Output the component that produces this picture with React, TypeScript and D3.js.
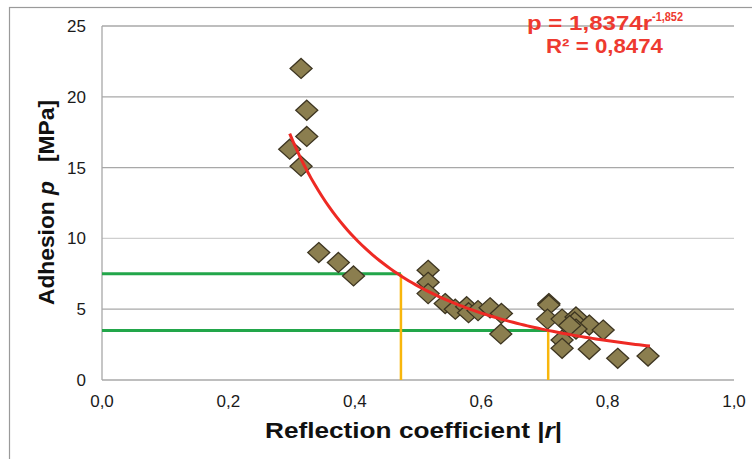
import React from "react";
import * as d3 from "d3";

const rValues = [0.315, 0.324, 0.324, 0.297, 0.315, 0.343, 0.374, 0.398, 0.516, 0.516, 0.516, 0.543, 0.559, 0.577, 0.580, 0.595, 0.614, 0.632, 0.631, 0.707, 0.707, 0.705, 0.728, 0.750, 0.748, 0.771, 0.793, 0.750, 0.740, 0.728, 0.728, 0.771, 0.816, 0.864];
const pValues = [22.0, 19.05, 17.2, 16.3, 15.1, 9.0, 8.3, 7.35, 7.75, 6.9, 6.1, 5.4, 5.0, 5.18, 4.75, 4.9, 5.1, 4.7, 3.25, 5.4, 5.3, 4.3, 4.3, 4.45, 4.1, 3.88, 3.53, 3.6, 3.85, 2.82, 2.24, 2.17, 1.53, 1.69];
const xTicks = [0, 0.2, 0.4, 0.6, 0.8, 1.0];
const yTicks = [0, 5, 10, 15, 20, 25];
const fitA = 1.8374;
const fitB = -1.852;
const fitRange = [0.297, 0.867];
const guideP = [7.5, 3.5];
const guideR = [0.473, 0.706];

const W = 752, H = 459;
const x = d3.scaleLinear().domain([0, 1]).range([102, 734]);
const y = d3.scaleLinear().domain([0, 25]).range([380, 26]);

const fmt = (v: number) => v.toFixed(1).replace(".", ",");

export default function App() {
  const curvePts = d3.range(0, 101).map((i) => {
    const r = fitRange[0] + ((fitRange[1] - fitRange[0]) * i) / 100;
    return [r, fitA * Math.pow(r, fitB)] as [number, number];
  });
  const line = d3.line<[number, number]>().x((d) => x(d[0])).y((d) => y(d[1]));
  const diamond = (cx: number, cy: number) =>
    `M${cx},${cy - 10}L${cx + 11},${cy}L${cx},${cy + 10}L${cx - 11},${cy}Z`;
  const font = "'Liberation Sans', Arial, sans-serif";
  return (
    <div style={{ position: "fixed", left: 0, top: 0 }}>
      <svg width={W} height={H} style={{ display: "block", background: "#fff" }}>
        <rect x={9.5} y={7.5} width={800} height={500} fill="none" stroke="#9a9a9a" strokeWidth={1.2} />
        {yTicks.filter((t) => t > 0).map((t) => (
          <line key={t} x1={x(0)} x2={x(1)} y1={y(t)} y2={y(t)} stroke={t === 10 ? "#cfcfcf" : "#a8a8a8"} strokeWidth={1.3} />
        ))}
        <line x1={x(0)} x2={x(1)} y1={y(0)} y2={y(0)} stroke="#a8a8a8" strokeWidth={1.3} />
        <line x1={x(0)} x2={x(0)} y1={y(0)} y2={y(25)} stroke="#a8a8a8" strokeWidth={1.3} />
        {yTicks.map((t) => (
          <text key={t} x={86} y={y(t)} dy="0.35em" textAnchor="end" fontFamily={font} fontSize={17} fill="#1a1a1a">{t}</text>
        ))}
        {xTicks.map((t) => (
          <text key={t} x={x(t)} y={407} textAnchor="middle" fontFamily={font} fontSize={17} fill="#1a1a1a">{fmt(t)}</text>
        ))}
        {guideP.map((p, i) => (
          <line key={"g" + i} x1={x(0)} x2={x(guideR[i])} y1={y(p)} y2={y(p)} stroke="#22a64a" strokeWidth={3} />
        ))}
        {guideR.map((r, i) => (
          <line key={"o" + i} x1={x(r)} x2={x(r)} y1={y(guideP[i])} y2={y(0)} stroke="#f8b60c" strokeWidth={2.5} />
        ))}
        {rValues.map((r, i) => (
          <path key={i} d={diamond(x(r), y(pValues[i]))} fill="#8b7e4f" stroke="#3d3521" strokeWidth={1.3} />
        ))}
        <path d={line(curvePts) || ""} fill="none" stroke="#ee2a24" strokeWidth={3} />
        <text x={527} y={30} fontFamily={font} fontWeight="bold" fontSize={21} fill="#ee3a30" textLength={125} lengthAdjust="spacingAndGlyphs">p = 1,8374r</text>
        <text x={652} y={21} fontFamily={font} fontWeight="bold" fontSize={13} fill="#ee3a30" textLength={31} lengthAdjust="spacingAndGlyphs">-1,852</text>
        <text x={546} y={53} fontFamily={font} fontWeight="bold" fontSize={21} fill="#ee3a30" textLength={117} lengthAdjust="spacingAndGlyphs">R² = 0,8474</text>
        <text x={265} y={438} fontFamily={font} fontWeight="bold" fontSize={22} fill="#111" textLength={297} lengthAdjust="spacingAndGlyphs">
          Reflection coefficient |<tspan fontStyle="italic">r</tspan>|
        </text>
        <text transform="translate(54,305) rotate(-90)" x={0} y={0} fontFamily={font} fontWeight="bold" fontSize={22} fill="#111" textLength={205} lengthAdjust="spacingAndGlyphs" style={{ whiteSpace: "pre" }}>
          {"Adhesion "}<tspan fontStyle="italic">p</tspan>{"   [MPa]"}
        </text>
      </svg>
    </div>
  );
}
